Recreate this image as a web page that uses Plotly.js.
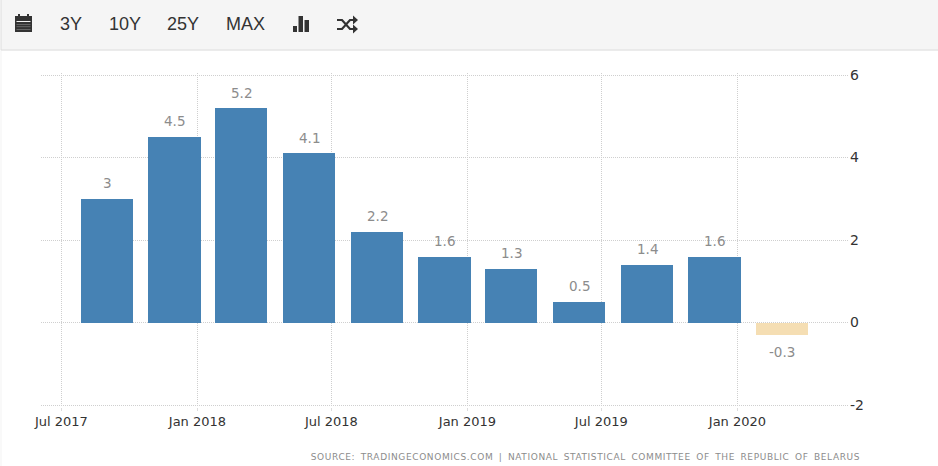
<!DOCTYPE html>
<html><head><meta charset="utf-8">
<script src="https://cdn.plot.ly/plotly-3.0.1.min.js"></script>
<style>html,body{margin:0;padding:0;background:#fff}#c{width:938px;height:466px}</style>
</head><body><div id="c"></div>
<script>
const dates=['2017-09-01','2017-12-01','2018-03-01','2018-06-01','2018-09-01','2018-12-01','2019-03-01','2019-06-01','2019-09-01','2019-12-01','2020-03-01'];
const values=[3,4.5,5.2,4.1,2.2,1.6,1.3,0.5,1.4,1.6,-0.3];
const tickDates=['2017-07-01','2018-01-01','2018-07-01','2019-01-01','2019-07-01','2020-01-01'];
const tickLabels=['Jul 2017','Jan 2018','Jul 2018','Jan 2019','Jul 2019','Jan 2020'];
const yTicks=[-2,0,2,4,6];
const buttons=[['3Y',70.5],['10Y',125],['25Y',183],['MAX',245.5]];
const sourceText='SOURCE: TRADINGECONOMICS.COM | NATIONAL STATISTICAL COMMITTEE OF THE REPUBLIC OF BELARUS';

const W=938,H=466,L=41,R=848,T=73,B=407;
const fx=p=>(p-L)/(R-L), fy=p=>(B-p)/(B-T);
const icon='#333';
const rect=(x0,y0,x1,y1,fill,line)=>({type:'rect',xref:'paper',yref:'paper',layer:'above',x0:fx(x0),x1:fx(x1),y0:fy(y0),y1:fy(y1),fillcolor:fill,line:line||{width:0}});
const poly=(pts,col)=>({type:'path',xref:'paper',yref:'paper',layer:'above',fillcolor:col||icon,line:{width:0},
  path:'M'+pts.map(p=>fx(p[0])+','+fy(p[1])).join('L')+'Z'});
const line=(pts,w)=>({type:'path',xref:'paper',yref:'paper',layer:'above',line:{width:w,color:icon},
  path:'M'+pts.map(p=>fx(p[0])+','+fy(p[1])).join('L')});
const shapes=[
  rect(1,50,W+2,H+2,'rgba(0,0,0,0)',{width:1,color:'#f3f3f3'}),
  rect(1,-1,W+2,50,'#f5f5f5',{width:1,color:'#dddddd'}),
  rect(15,16,32,32,icon),
  rect(16.5,21,30.5,22,'#f5f5f5'),
  rect(16.5,24,30.5,24.6,'#888'),rect(16.5,26.5,30.5,27.1,'#888'),rect(16.5,29,30.5,29.6,'#888'),
  rect(18,14,20,17,icon),rect(27,14,29,17,icon),
  rect(293,26,297,32,icon),rect(298.5,16,303,32,icon),rect(304.5,20,309,32,icon),
  line([[337,20],[342,20],[350,29],[354,29]],2.2),
  line([[337,29],[342,29],[350,20],[354,20]],2.2),
  poly([[353,15.5],[358,20],[353,24.5]]),
  poly([[353,24.5],[358,29],[353,33.5]])
];
const annotations=buttons.map(b=>({xref:'paper',yref:'paper',x:fx(b[1]),y:fy(24),text:b[0],showarrow:false,xanchor:'center',yanchor:'middle',
  font:{family:'Liberation Sans',size:18,color:'#333'}}));
annotations.push({xref:'paper',yref:'paper',x:fx(585),y:fy(457),text:sourceText,showarrow:false,xanchor:'center',yanchor:'middle',
  font:{family:'DejaVu Sans',size:9,color:'#8c8c8c'}});
values.forEach((v,i)=>annotations.push({xref:'x',yref:'y',x:dates[i],y:v,text:String(v),showarrow:false,xanchor:'center',yanchor:'middle',
  yshift:v<0?-17.5:15.5,font:{family:'DejaVu Sans',size:13.5,color:'#8c8c8c'}}));

const pxPerDay=(737-61)/914;
const trace={type:'bar',x:dates,y:values,width:dates.map(()=>52.5/pxPerDay*864e5),
  marker:{color:values.map(v=>v<0?'#F5DEB3':'#4682B4'),line:{width:0}},hoverinfo:'x+y'};
const perUnit=41.25, pad=2/perUnit;
const layout={width:W,height:H,margin:{l:L,r:W-R,t:T,b:H-B,pad:0},paper_bgcolor:'#fff',plot_bgcolor:'#fff',showlegend:false,
  font:{family:'DejaVu Sans'},
  xaxis:{type:'date',range:['2017-06-03 12:00','2020-05-29 12:00'],tickmode:'array',tickvals:tickDates,ticktext:tickLabels,
    showgrid:true,gridcolor:'#cfcfcf',griddash:'1px,1px',gridwidth:1,zeroline:false,showline:false,
    ticks:'outside',ticklen:3,tickcolor:'#dddddd',tickangle:0,ticklabelstandoff:-1,
    tickfont:{family:'DejaVu Sans',size:13,color:'#333'}},
  yaxis:{side:'right',range:[-2-pad,6+pad],tickvals:yTicks,ticktext:yTicks.map(String),
    showgrid:true,gridcolor:'#cfcfcf',griddash:'1px,1px',gridwidth:1,zeroline:false,showline:false,
    ticks:'',ticklabelstandoff:1,
    tickfont:{family:'DejaVu Sans',size:14,color:'#333'}},
  bargap:0,shapes,annotations};
Plotly.newPlot('c',[trace],layout,{displayModeBar:false,staticPlot:true}).then(()=>{
  document.querySelectorAll('.annotation-text').forEach(t=>{if(t.textContent.startsWith('SOURCE')){t.style.letterSpacing='0.62px';t.style.wordSpacing='2px';}});
});
</script></body></html>
